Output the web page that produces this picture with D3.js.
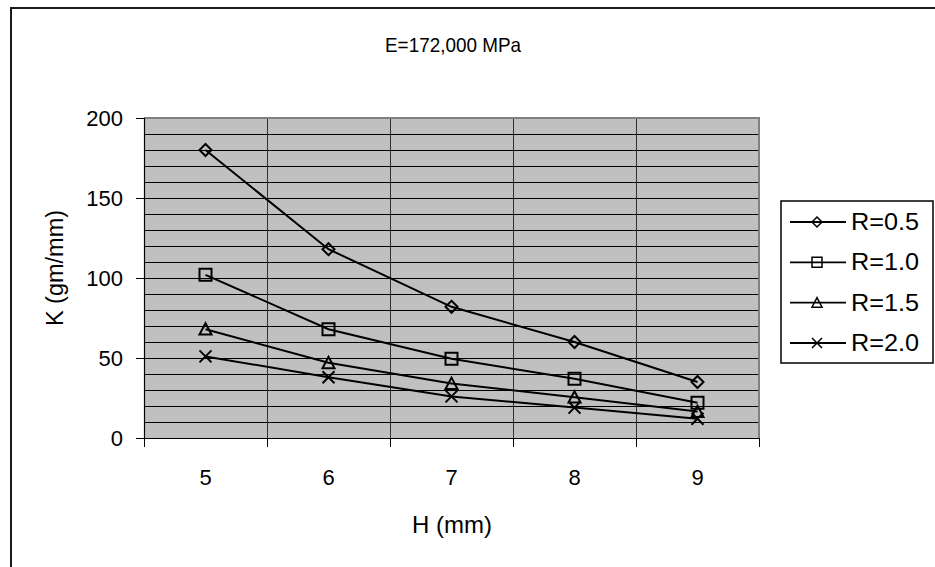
<!DOCTYPE html>
<html>
<head>
<meta charset="utf-8">
<script src="https://cdn.jsdelivr.net/npm/d3@7"></script>
<style>
  html, body { margin: 0; padding: 0; background: #fff; }
  svg { display: block; font-family: "Liberation Sans", Arial, sans-serif; }
</style>
</head>
<body>
<svg id="chart" width="935" height="567"></svg>
<script>
// Stiffness K (gm/mm) against height H (mm) for four R values, E = 172,000 MPa
const categories = [5, 6, 7, 8, 9];
const seriesNames = ["R=0.5", "R=1.0", "R=1.5", "R=2.0"];
const r05 = [180, 118, 82, 60, 35];
const r10 = [102, 68, 49.5, 37, 22];
const r15 = [68, 47, 34, 25.5, 16.5];
const r20 = [51, 38, 26, 19, 12];
const yTicks = [0, 50, 100, 150, 200];
const gridValues = d3.range(10, 200, 10);
const markerShapes = ["diamond", "square", "triangle", "cross"];

const seriesValues = [r05, r10, r15, r20];

const svg = d3.select("#chart");
const plot = { left: 144, right: 759, top: 118, bottom: 438 };

const x = d3.scaleBand().domain(categories).range([plot.left, plot.right]).padding(0);
const y = d3.scaleLinear().domain([0, 200]).range([plot.bottom, plot.top]);
const cx = d => x(d) + x.bandwidth() / 2;

// outer chart frame (runs off the right and bottom edges)
svg.append("rect")
  .attr("x", 11).attr("y", 8).attr("width", 1000).attr("height", 1000)
  .attr("fill", "#fff").attr("stroke", "#1a1a1a").attr("stroke-width", 2);

// title
svg.append("text")
  .attr("x", 453).attr("y", 52)
  .attr("text-anchor", "middle")
  .attr("font-size", 21)
  .attr("textLength", 136).attr("lengthAdjust", "spacingAndGlyphs")
  .text("E=172,000 MPa");

// plot background
svg.append("rect")
  .attr("x", plot.left).attr("y", plot.top)
  .attr("width", plot.right - plot.left).attr("height", plot.bottom - plot.top)
  .attr("fill", "#c0c0c0");

// horizontal gridlines
svg.append("g").selectAll("line").data(gridValues).join("line")
  .attr("x1", plot.left).attr("x2", plot.right)
  .attr("y1", d => y(d) + 0.5).attr("y2", d => y(d) + 0.5)
  .attr("stroke", "#000").attr("stroke-width", 1);

// vertical gridlines at category boundaries
svg.append("g").selectAll("line").data(categories.slice(1)).join("line")
  .attr("x1", d => x(d) + 0.5).attr("x2", d => x(d) + 0.5)
  .attr("y1", plot.top).attr("y2", plot.bottom)
  .attr("stroke", "#303030").attr("stroke-width", 1);

// plot border: grey on top and right
svg.append("path")
  .attr("d", `M${plot.left},${plot.top}H${plot.right}V${plot.bottom}`)
  .attr("fill", "none").attr("stroke", "#808080").attr("stroke-width", 2);

// y axis
const yAxis = svg.append("g")
  .attr("transform", `translate(${plot.left},0)`)
  .call(d3.axisLeft(y).tickValues(yTicks).tickSize(8).tickPadding(13).tickFormat(d3.format("d")));
yAxis.select(".domain").attr("stroke", "#000").attr("stroke-width", 1.2);
yAxis.selectAll(".tick line").attr("stroke", "#000");
yAxis.selectAll(".tick text").attr("font-size", 22).attr("fill", "#000")
  .attr("font-family", "Liberation Sans, Arial, sans-serif");

// x axis: ticks sit on the category boundaries, labels in the middle
const xAxis = svg.append("g")
  .attr("transform", `translate(0,${plot.bottom})`);
xAxis.append("line")
  .attr("x1", plot.left).attr("x2", plot.right).attr("y1", 0.5).attr("y2", 0.5)
  .attr("stroke", "#000").attr("stroke-width", 1.2);
const boundaries = categories.map(d => x(d)).concat([plot.right]);
xAxis.selectAll("line.tk").data(boundaries).join("line").attr("class", "tk")
  .attr("x1", d => d + 0.5).attr("x2", d => d + 0.5).attr("y1", 0).attr("y2", 9)
  .attr("stroke", "#000");
xAxis.selectAll("text").data(categories).join("text")
  .attr("x", d => cx(d)).attr("y", 47)
  .attr("text-anchor", "middle").attr("font-size", 22)
  .text(d => d);

// axis titles
svg.append("text")
  .attr("x", 452).attr("y", 533)
  .attr("text-anchor", "middle").attr("font-size", 24)
  .text("H (mm)");
svg.append("text")
  .attr("transform", "translate(63,268) rotate(-90)")
  .attr("text-anchor", "middle").attr("font-size", 23.5)
  .text("K (gm/mm)");

// marker path generator
function markerPath(shape, s) {
  const h = s / 2;
  switch (shape) {
    case "diamond": return `M0,${-h}L${h},0L0,${h}L${-h},0Z`;
    case "square": return `M${-h},${-h}H${h}V${h}H${-h}Z`;
    case "triangle": return `M0,${-h}L${h},${h * 0.9}H${-h}Z`;
    case "cross": return `M${-h},${-h}L${h},${h}M${h},${-h}L${-h},${h}`;
  }
}

const line = d3.line().x((d, i) => cx(categories[i])).y(d => y(d));

const series = svg.append("g");
seriesValues.forEach((vals, si) => {
  series.append("path")
    .datum(vals)
    .attr("d", line)
    .attr("fill", "none").attr("stroke", "#000").attr("stroke-width", 2);
  series.append("g").selectAll("path").data(vals).join("path")
    .attr("transform", (d, i) => `translate(${cx(categories[i])},${y(d)})`)
    .attr("d", markerPath(markerShapes[si], 12))
    .attr("fill", "none").attr("stroke", "#000").attr("stroke-width", 2);
});

// legend
const legend = svg.append("g");
legend.append("rect")
  .attr("x", 781).attr("y", 201).attr("width", 152).attr("height", 162)
  .attr("fill", "#fff").attr("stroke", "#000").attr("stroke-width", 1.5);
const rowY = d3.scaleLinear().domain([0, 3]).range([222, 343]);
seriesNames.forEach((name, i) => {
  const yy = rowY(i);
  legend.append("line")
    .attr("x1", 790).attr("x2", 846).attr("y1", yy).attr("y2", yy)
    .attr("stroke", "#000").attr("stroke-width", 1.8);
  legend.append("path")
    .attr("transform", `translate(817,${yy})`)
    .attr("d", markerPath(markerShapes[i], 10))
    .attr("fill", "none").attr("stroke", "#000").attr("stroke-width", 1.5);
  legend.append("text")
    .attr("x", 851).attr("y", yy + 8)
    .attr("font-size", 23)
    .attr("textLength", 68).attr("lengthAdjust", "spacingAndGlyphs")
    .text(name);
});
</script>
</body>
</html>
